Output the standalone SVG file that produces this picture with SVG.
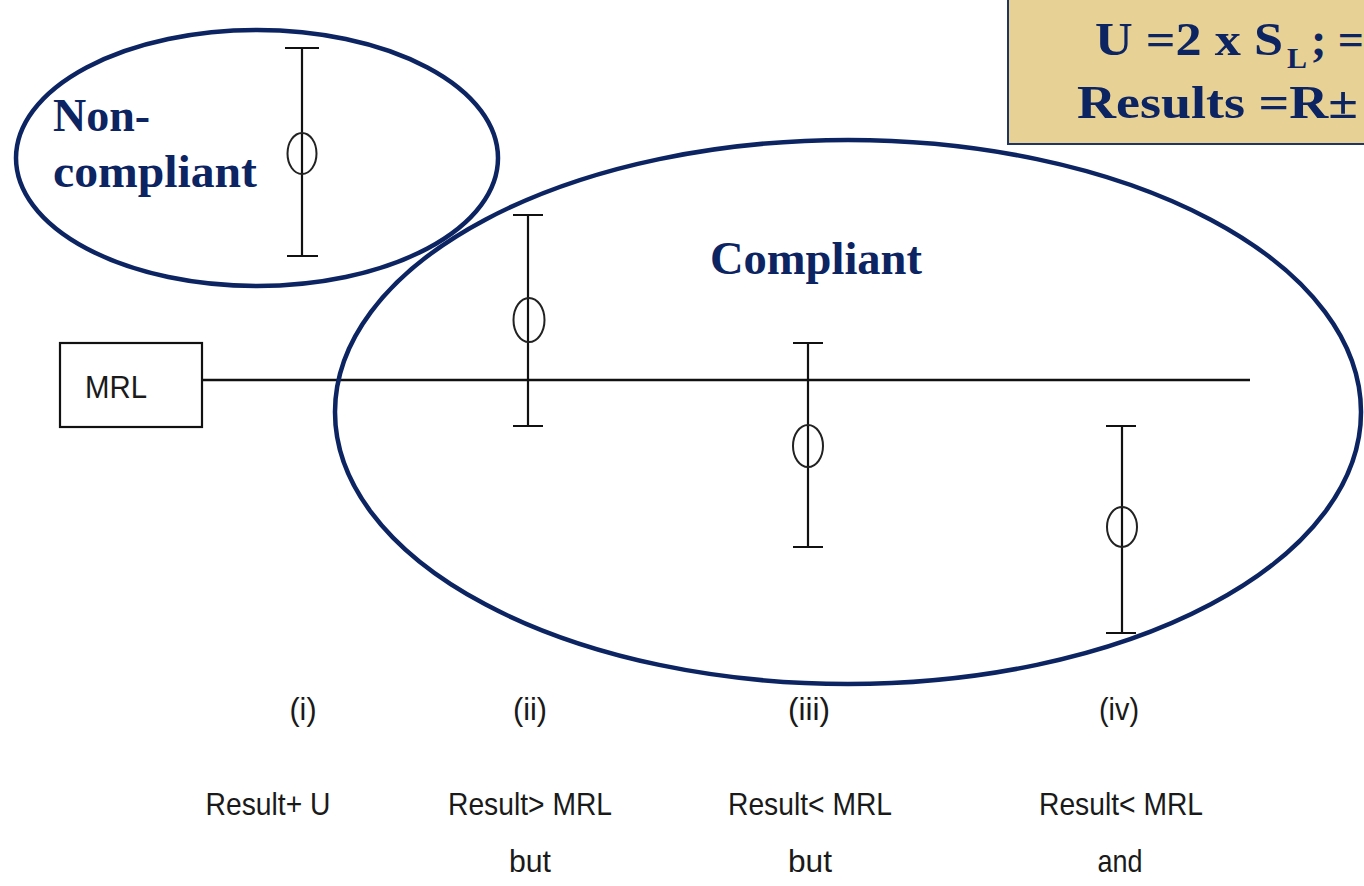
<svg xmlns="http://www.w3.org/2000/svg" width="1364" height="886" viewBox="0 0 1364 886">
<style>
.bar{stroke:#111;stroke-width:2.2;fill:none}
.pt{stroke:#222;stroke-width:2;fill:none}
.zone{fill:none;stroke:#0c2462;stroke-width:4.5}
.big{font-family:"Liberation Serif",serif;font-weight:bold;fill:#0c2462;font-size:46px}
.lab{font-family:"Liberation Sans",sans-serif;font-size:32px;fill:#1a1a1a}
</style>
<rect width="1364" height="886" fill="#fff"/>
<g id="formula-box">
<rect x="1008" y="-5" width="370" height="149" fill="#e8d195" stroke="#1f3566" stroke-width="2"/>
<text class="big" x="1095" y="55" font-size="48"><tspan textLength="188" lengthAdjust="spacingAndGlyphs">U =2 x S</tspan><tspan x="1287" dy="13" font-size="30">L</tspan><tspan x="1311" dy="-13">; =</tspan></text>
<text class="big" x="1077" y="118" font-size="48" textLength="281" lengthAdjust="spacingAndGlyphs">Results =R±</text>
</g>
<g id="mrl">
<rect x="60" y="343" width="142" height="84" fill="#fff" stroke="#111" stroke-width="2.2"/>
<text class="lab" x="85" y="398" textLength="62" lengthAdjust="spacingAndGlyphs">MRL</text>
</g>
<g id="connectors">
<line x1="202" y1="380" x2="1250" y2="380" stroke="#111" stroke-width="2.5"/>
</g>
<g id="bar-i">
<path class="bar" d="M302 48V256M285 48H319M287 256H318"/>
<ellipse class="pt" cx="302" cy="153.5" rx="14.5" ry="20.5"/>
</g>
<g id="bar-ii">
<path class="bar" d="M528 215V426M513 215H543M513 426H543"/>
<ellipse class="pt" cx="529" cy="320" rx="15.5" ry="22"/>
</g>
<g id="bar-iii">
<path class="bar" d="M808 343V547M793 343H823M793 547H823"/>
<ellipse class="pt" cx="808" cy="446" rx="15" ry="21"/>
</g>
<g id="bar-iv">
<path class="bar" d="M1122 426V633M1106 426H1136M1106 633H1136"/>
<ellipse class="pt" cx="1122" cy="527" rx="15" ry="20"/>
</g>
<g id="non-compliant">
<ellipse class="zone" cx="257" cy="158" rx="241" ry="128"/>
<text class="big" x="53" y="131">Non-</text>
<text class="big" x="53" y="187" textLength="204" lengthAdjust="spacingAndGlyphs">compliant</text>
</g>
<g id="compliant">
<ellipse class="zone" cx="848" cy="412" rx="513" ry="272"/>
<text class="big" x="710" y="274" textLength="212" lengthAdjust="spacingAndGlyphs">Compliant</text>
</g>
<g id="labels" text-anchor="middle">
<text class="lab" x="303" y="720" textLength="27" lengthAdjust="spacingAndGlyphs">(i)</text>
<text class="lab" x="530" y="720" textLength="34" lengthAdjust="spacingAndGlyphs">(ii)</text>
<text class="lab" x="809" y="720" textLength="42" lengthAdjust="spacingAndGlyphs">(iii)</text>
<text class="lab" x="1119" y="720" textLength="40" lengthAdjust="spacingAndGlyphs">(iv)</text>
<text class="lab" x="268" y="815" textLength="125" lengthAdjust="spacingAndGlyphs">Result+ U</text>
<text class="lab" x="530" y="815" textLength="164" lengthAdjust="spacingAndGlyphs">Result&gt; MRL</text>
<text class="lab" x="810" y="815" textLength="164" lengthAdjust="spacingAndGlyphs">Result&lt; MRL</text>
<text class="lab" x="1121" y="815" textLength="164" lengthAdjust="spacingAndGlyphs">Result&lt; MRL</text>
<text class="lab" x="530" y="872" textLength="42" lengthAdjust="spacingAndGlyphs">but</text>
<text class="lab" x="810" y="872" textLength="44" lengthAdjust="spacingAndGlyphs">but</text>
<text class="lab" x="1120" y="872" textLength="45" lengthAdjust="spacingAndGlyphs">and</text>
</g>
</svg>
